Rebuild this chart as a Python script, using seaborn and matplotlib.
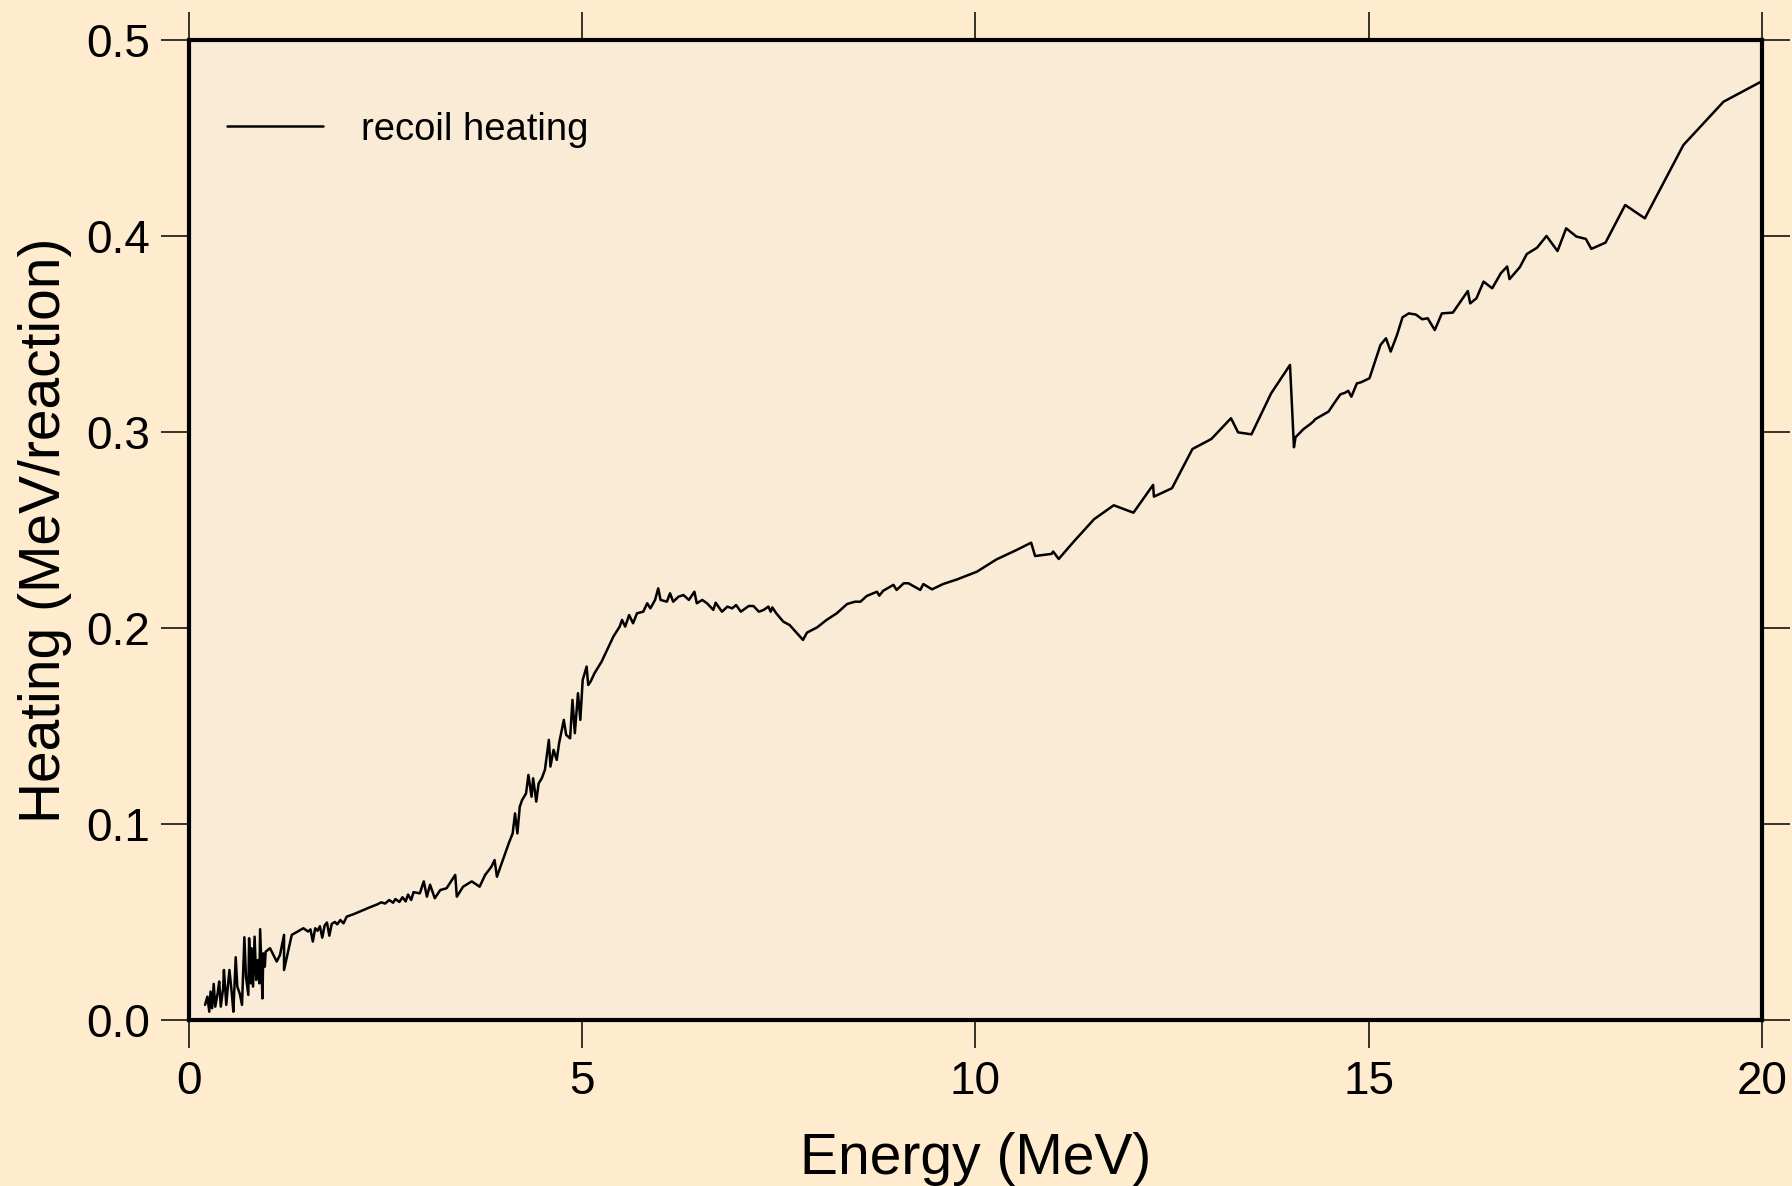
import matplotlib
matplotlib.use("Agg")
import matplotlib.pyplot as plt
import seaborn as sns
import pandas as pd

# recoil heating
energy = [
    0.21, 0.24, 0.264, 0.28, 0.30, 0.32, 0.34, 0.37, 0.39, 0.41, 0.44, 0.45, 0.48, 0.50,
    0.52, 0.55, 0.57, 0.60, 0.62, 0.65, 0.68, 0.71, 0.73, 0.76, 0.77, 0.79, 0.80, 0.82,
    0.84, 0.86, 0.88, 0.90, 0.91, 0.93, 0.94, 0.95, 0.97, 0.98, 1.036, 1.121, 1.163,
    1.214, 1.214, 1.312, 1.46, 1.52, 1.55, 1.58, 1.61, 1.64, 1.67, 1.70, 1.73, 1.76,
    1.79, 1.82, 1.86, 1.89, 1.93, 1.97, 2.01, 2.10, 2.20, 2.30, 2.40, 2.45, 2.50, 2.55,
    2.60, 2.63, 2.68, 2.72, 2.76, 2.79, 2.83, 2.86, 2.94, 2.99, 3.03, 3.07, 3.13, 3.20,
    3.28, 3.39, 3.41, 3.49, 3.60, 3.70, 3.77, 3.85, 3.89, 3.92, 3.98, 4.04, 4.07, 4.12,
    4.15, 4.18, 4.21, 4.24, 4.29, 4.32, 4.36, 4.38, 4.42, 4.45, 4.49, 4.53, 4.58, 4.60,
    4.64, 4.68, 4.71, 4.77, 4.80, 4.85, 4.88, 4.91, 4.95, 4.98, 5.01, 5.06, 5.08, 5.11,
    5.16, 5.25, 5.33, 5.40, 5.48, 5.51, 5.55, 5.60, 5.65, 5.70, 5.78, 5.83, 5.87, 5.93,
    5.97, 6.00, 6.08, 6.12, 6.16, 6.23, 6.29, 6.36, 6.43, 6.46, 6.53, 6.59, 6.67, 6.70,
    6.78, 6.85, 6.91, 6.96, 7.02, 7.12, 7.18, 7.25, 7.31, 7.37, 7.40, 7.42, 7.47, 7.56,
    7.64, 7.81, 7.86, 7.99, 8.11, 8.24, 8.37, 8.47, 8.54, 8.62, 8.75, 8.78, 8.83, 8.96,
    9.00, 9.09, 9.15, 9.30, 9.34, 9.45, 9.59, 9.77, 10.02, 10.27, 10.51, 10.71, 10.76,
    10.97, 10.99, 11.06, 11.25, 11.51, 11.76, 12.01, 12.26, 12.27, 12.50, 12.76, 13.00,
    13.25, 13.34, 13.51, 13.76, 14.00, 14.05, 14.07, 14.17, 14.26, 14.30, 14.32, 14.49,
    14.56, 14.64, 14.70, 14.74, 14.78, 14.85, 14.90, 15.01, 15.15, 15.22, 15.28, 15.36,
    15.43, 15.51, 15.60, 15.68, 15.75, 15.84, 15.93, 16.07, 16.26, 16.29, 16.37, 16.46,
    16.57, 16.68, 16.76, 16.79, 16.92, 17.01, 17.14, 17.26, 17.40, 17.51, 17.64, 17.76,
    17.83, 18.01, 18.26, 18.51, 19.00, 19.51, 20.00,
]
heating = [
    0.0077, 0.0119, 0.0042, 0.0145, 0.0060, 0.0184, 0.0068, 0.0136, 0.0196, 0.0068,
    0.0162, 0.0255, 0.0077, 0.0170, 0.0255, 0.0136, 0.0042, 0.0320, 0.0170, 0.0136,
    0.0077, 0.0422, 0.0221, 0.0128, 0.0417, 0.0187, 0.0366, 0.0170, 0.0425, 0.0204,
    0.0306, 0.0187, 0.0463, 0.0221, 0.0110, 0.0340, 0.0272, 0.0348, 0.0366, 0.0298,
    0.0332, 0.0434, 0.0255, 0.0434, 0.0468, 0.0451, 0.0462, 0.0400, 0.0468, 0.0455,
    0.0478, 0.0420, 0.0482, 0.0497, 0.0430, 0.0490, 0.0500, 0.0488, 0.0510, 0.0493,
    0.0527, 0.0540, 0.0557, 0.0574, 0.0590, 0.0600, 0.0594, 0.0612, 0.0598, 0.0617,
    0.0602, 0.0626, 0.0605, 0.0640, 0.0612, 0.0652, 0.0646, 0.0707, 0.0629, 0.0690,
    0.0621, 0.0663, 0.0672, 0.0740, 0.0629, 0.0680, 0.0707, 0.0680, 0.0740, 0.0782,
    0.0816, 0.0731, 0.0799, 0.0867, 0.0901, 0.0952, 0.1054, 0.0952, 0.1088, 0.1122,
    0.1156, 0.1250, 0.1139, 0.1233, 0.1114, 0.1207, 0.1233, 0.1276, 0.1429, 0.1293,
    0.1378, 0.1327, 0.1412, 0.1531, 0.1454, 0.1437, 0.1633, 0.1463, 0.1667, 0.1531,
    0.1735, 0.1803, 0.1709, 0.1726, 0.1769, 0.1828, 0.1896, 0.1956, 0.2007, 0.2041,
    0.2007, 0.2066, 0.2024, 0.2075, 0.2083, 0.2126, 0.2100, 0.2143, 0.2202, 0.2143,
    0.2134, 0.2177, 0.2134, 0.2160, 0.2168, 0.2143, 0.2185, 0.2126, 0.2143, 0.2126,
    0.2092, 0.2129, 0.2083, 0.2109, 0.2100, 0.2117, 0.2083, 0.2112, 0.2112, 0.2083,
    0.2092, 0.2109, 0.2083, 0.2105, 0.2075, 0.2032, 0.2015, 0.1939, 0.1976, 0.2003,
    0.2041, 0.2075, 0.2122, 0.2134, 0.2134, 0.2163, 0.2185, 0.2165, 0.2190, 0.2220,
    0.2194, 0.2228, 0.2228, 0.2194, 0.2224, 0.2197, 0.2224, 0.2248, 0.2287, 0.2350,
    0.2395, 0.2435, 0.2367, 0.2378, 0.2390, 0.2352, 0.2440, 0.2555, 0.2626, 0.2588,
    0.2730, 0.2670, 0.2713, 0.2913, 0.2964, 0.3070, 0.2998, 0.2988, 0.3197, 0.3342,
    0.2922, 0.2973, 0.3014, 0.3041, 0.3055, 0.3065, 0.3104, 0.3146, 0.3192, 0.3200,
    0.3210, 0.3180, 0.3248, 0.3253, 0.3274, 0.3444, 0.3478, 0.3410, 0.3495, 0.3585,
    0.3605, 0.3599, 0.3575, 0.3580, 0.3520, 0.3605, 0.3609, 0.3719, 0.3656, 0.3682,
    0.3767, 0.3733, 0.3810, 0.3844, 0.3780, 0.3840, 0.3908, 0.3940, 0.4000, 0.3923,
    0.4039, 0.3997, 0.3985, 0.3934, 0.3966, 0.4158, 0.4090, 0.4464, 0.4685, 0.4790,
]
series_label = "recoil heating"
x_ticks = [0, 5, 10, 15, 20]
y_ticks = [0.0, 0.1, 0.2, 0.3, 0.4, 0.5]

df = pd.DataFrame({"Energy": energy, "Heating": heating})

sns.set_theme(style="ticks")
plt.rcParams["font.family"] = ["Liberation Sans", "DejaVu Sans"]

fig = plt.figure(figsize=(17.92, 11.86), dpi=100, facecolor="#FFEBCD")
ax = fig.add_axes([0.1052, 0.14, 0.8781, 0.8263])
ax.set_facecolor("#FAEBD7")

sns.lineplot(data=df, x="Energy", y="Heating", sort=False, estimator=None,
             color="black", linewidth=1.8, label=series_label, ax=ax)

ax.set_xlim(0, 20)
ax.set_ylim(0, 0.5)
ax.set_xticks(x_ticks)
ax.set_xticklabels([str(t) for t in x_ticks])
ax.set_yticks(y_ticks)
ax.set_yticklabels([f"{t:.1f}" for t in y_ticks])

for s in ax.spines.values():
    s.set_linewidth(3)
    s.set_color("black")

ax.tick_params(axis="both", which="major", direction="out", length=20, width=1.1,
               color="black", labelsize=33, labelcolor="black",
               top=True, right=True, labeltop=False, labelright=False)
ax.tick_params(axis="x", pad=9)
ax.tick_params(axis="y", pad=8)

ax.set_xlabel("Energy (MeV)", fontsize=41, labelpad=20, color="black")
ax.set_ylabel("Heating (MeV/reaction)", fontsize=41, labelpad=10, color="black")

ax.legend(loc="upper left", bbox_to_anchor=(0.0245, 0.927), frameon=False,
          fontsize=27.5, handlelength=2.5, handletextpad=1.0,
          borderpad=0, borderaxespad=0, labelcolor="black")

fig.savefig("out.png", dpi=100, facecolor=fig.get_facecolor())
